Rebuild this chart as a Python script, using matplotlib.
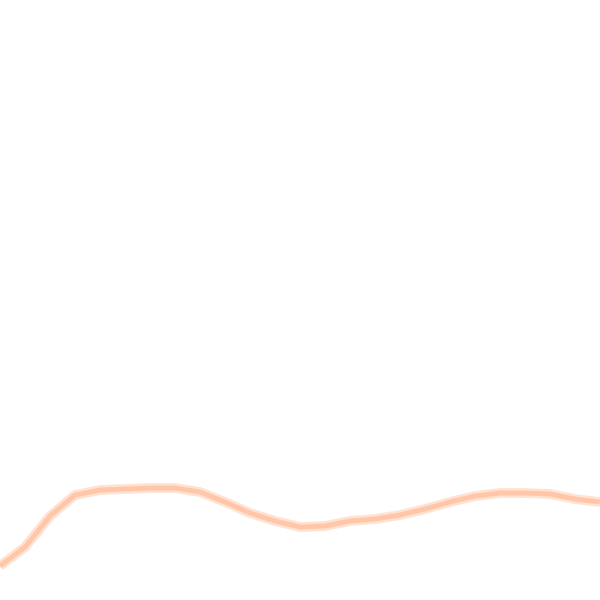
import matplotlib
matplotlib.use("Agg")
import matplotlib.pyplot as plt
import numpy as np

# values, one every 25 px across the width
step = np.arange(25)
level = np.array([34, 53, 84, 105, 110, 111, 112, 112, 108, 98, 87, 79, 73,
                  74, 79, 81, 85, 91, 98, 104, 107, 107, 106, 101, 98])

fig = plt.figure(figsize=(6, 6), dpi=100)
ax = fig.add_axes([0, 0, 1, 1])

ax.plot(step, level, color="#FFE2CF", linewidth=7, solid_capstyle="butt")
ax.plot(step, level, color="#FFC6AA", linewidth=3.5, solid_capstyle="butt")

ax.set_xlim(0, 24)
ax.set_ylim(0, 600)
ax.axis("off")

fig.savefig("out.png", dpi=100, facecolor="white")
